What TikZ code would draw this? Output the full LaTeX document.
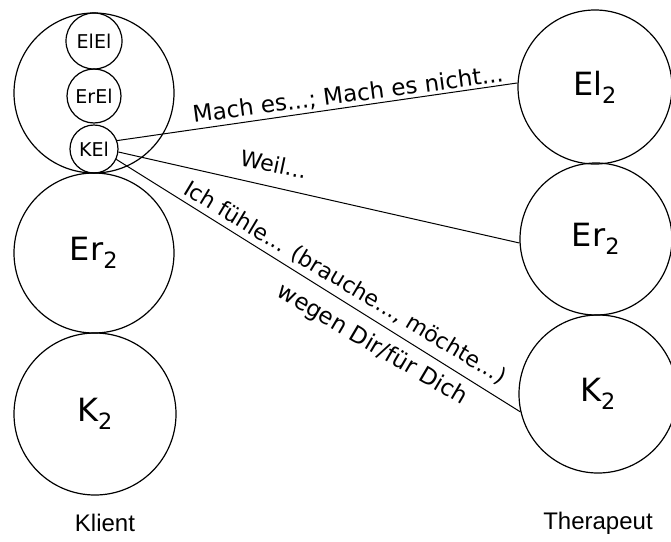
\documentclass[tikz,border=0pt]{standalone}
\usepackage{fontspec}
\setmainfont{Liberation Sans}
\newfontfamily\handfont{DejaVu Sans}
\begin{document}
\begin{tikzpicture}[x=1pt,y=-1pt,
  ring/.style={draw,circle,line width=1.2pt,inner sep=0pt,minimum size=#1},
  big/.style={font=\handfont\fontsize{32}{34}\selectfont},
  small/.style={font=\handfont\fontsize{19}{21}\selectfont},
  hand/.style={font=\handfont\fontsize{#1}{24}\selectfont,inner sep=0pt},
  link/.style={line width=1pt},
  caption/.style={font=\fontsize{24}{26}\selectfont}]
\useasboundingbox (0,0) rectangle (671,541);
% client
\node[ring=160pt] (cEl) at (94,93) {};
\node[ring=56pt,small] (cElEl) at (94,41) {ElEl};
\node[ring=54pt,small] (cErEl) at (94,96) {ErEl};
\node[ring=48pt,small] (cKEl) at (94,149) {KEl};
\node[ring=160pt,big] (cEr) at (94,253) {Er\textsubscript{2}};
\node[ring=162pt,big] (cK) at (95,414) {K\textsubscript{2}};
\node[caption] (klient) at (105,523) {Klient};
% therapist
\node[ring=154pt,big] (tEl) at (595,87) {El\textsubscript{2}};
\node[ring=152pt,big] (tEr) at (596,239) {Er\textsubscript{2}};
\node[ring=158pt,big] (tK) at (598,394) {K\textsubscript{2}};
\node[caption] (therapeut) at (598,523) {Therapeut};
% connectors
\draw[link] (cKEl.20) -- (tEl.177);
\draw[link] (cKEl.-7) -- (tEr.183);
\draw[link] (cKEl.-25) -- (tK.193);
% labels
\node[hand=23,rotate=7.5] (l1) at (348,95) {Mach es...; Mach es nicht...};
\node[hand=22,rotate=-12] (l2) at (274,164) {Weil...};
\node[hand=22,rotate=-31] (l3) at (345,283) {Ich fühle... (brauche..., möchte...)};
\node[hand=23,rotate=-30.5] (l4) at (372,345) {wegen Dir/für Dich};
\end{tikzpicture}
\end{document}
